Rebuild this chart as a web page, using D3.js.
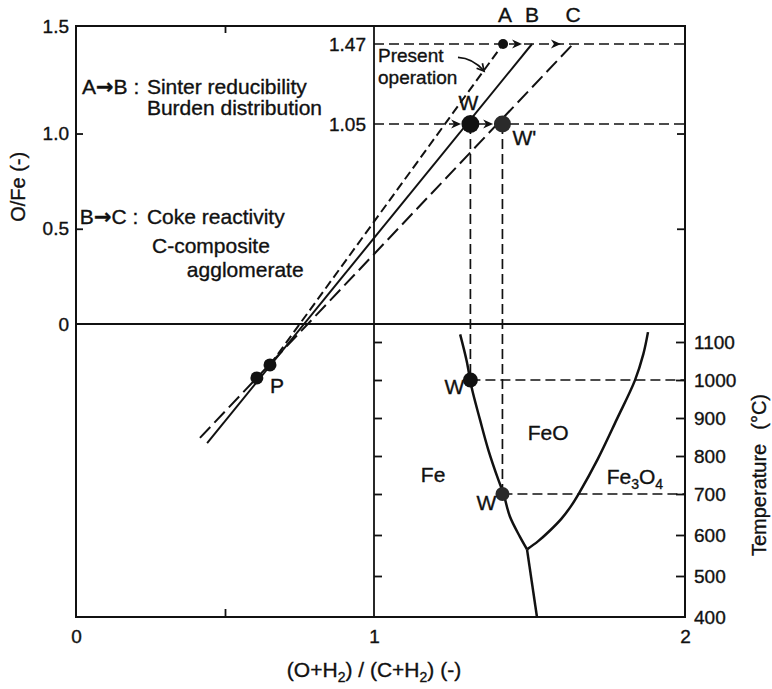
<!DOCTYPE html>
<html><head><meta charset="utf-8">
<script src="https://cdn.jsdelivr.net/npm/d3@7"></script>
<style>body{margin:0;background:#fff} text{stroke:#111;stroke-width:0.35px}</style>
</head><body><svg id="c" width="772" height="689"></svg>
<script>
// ---------------- data ----------------
const xTicks = [0, 1, 2];
const xMinorTicks = [0.5];
const oFeTicks = [0, 0.5, 1.0, 1.5];
const oFeInnerTicks = [0.5, 1.0];
const oFeMarks = [1.47, 1.05];
const tempTicks = [400, 500, 600, 700, 800, 900, 1000, 1100];
const opLineNames = ["A", "B", "C"];
const opLineLow = [[0.651, -0.215], [0.440, -0.625], [0.416, -0.598]];
const opLineTopX = [1.415, 1.508, 1.640];   // x where each line meets O/Fe = 1.47
const pPoints = [[0.651, -0.215], [0.607, -0.283]];
const wX = 1.31, wPrimeX = 1.413;
const wTemp = 1000, wPrimeTemp = 700;
const feFeoBoundary = [[1.277,1120],[1.298,1050],[1.314,980],[1.341,895],[1.368,815],[1.400,737],[1.416,702],[1.437,645],[1.469,596],[1.492,565]];
const feFe3o4Boundary = [[1.492,565],[1.524,400]];
const feoFe3o4Boundary = [[1.492,565],[1.528,585],[1.566,611],[1.603,640],[1.634,671],[1.660,703],[1.719,791],[1.781,897],[1.839,999],[1.866,1068],[1.881,1126]];
const shiftArrowsTop = [1.476, 1.601];
const shiftArrowsW = [1.280, 1.383];
const presentArrow = [[1.27, 1.40], [1.318, 1.396], [1.354, 1.328]];

// ---------------- scales ----------------
const x = d3.scaleLinear().domain([0, 1, 2]).range([76, 374, 685]);
const y = d3.scaleLinear().domain([0, 1.47, 1.5]).range([324, 44, 26]);
const t = d3.scaleLinear().domain([400, 700, 1100]).range([617, 494, 342]);

const F = '"Liberation Sans", Arial, Helvetica, sans-serif';
const ink = "#111";
const svg = d3.select("#c");
const g = svg.append("g");

function axisStyle(sel) {
  sel.attr("font-family", F).attr("font-size", 19);
  sel.select(".domain").remove();
  sel.selectAll("line").attr("stroke", ink).attr("stroke-width", 1.8);
  sel.selectAll("text").attr("fill", ink);
}

// frame & dividers
g.append("rect").attr("x", x(0)).attr("y", y(1.5))
  .attr("width", x(2) - x(0)).attr("height", t(400) - y(1.5))
  .attr("fill", "none").attr("stroke", ink).attr("stroke-width", 2);
g.append("line").attr("x1", x(1)).attr("x2", x(1)).attr("y1", y(1.5)).attr("y2", t(400))
  .attr("stroke", ink).attr("stroke-width", 1.8);
g.append("line").attr("x1", x(0)).attr("x2", x(2)).attr("y1", y(0)).attr("y2", y(0))
  .attr("stroke", ink).attr("stroke-width", 1.8);

// axes
g.append("g").attr("transform", `translate(${x(0)},0)`)
  .call(d3.axisRight(y).tickValues(oFeInnerTicks).tickSize(7).tickFormat("")).call(axisStyle);
g.append("g").attr("transform", `translate(${x(0) - 7},0)`)
  .call(d3.axisLeft(y).tickValues(oFeTicks).tickSize(0).tickPadding(0)
    .tickFormat(d => d === 0 ? "0" : d3.format(".1f")(d))).call(axisStyle);
g.append("g").attr("transform", `translate(${x(2)},0)`)
  .call(d3.axisLeft(y).tickValues(oFeInnerTicks).tickSize(8).tickFormat("")).call(axisStyle);
g.append("g").attr("transform", `translate(${x(1) - 8},0)`)
  .call(d3.axisLeft(y).tickValues(oFeMarks).tickSize(0).tickPadding(0).tickFormat(d3.format(".2f"))).call(axisStyle);
g.append("g").attr("transform", `translate(${x(1)},0)`)
  .call(d3.axisRight(t).tickValues(tempTicks.filter(d => d > 400)).tickSize(8).tickFormat("")).call(axisStyle);
g.append("g").attr("transform", `translate(${x(2)},0)`)
  .call(d3.axisLeft(t).tickValues(tempTicks.filter(d => d > 400)).tickSize(9).tickFormat("")).call(axisStyle);
g.append("g").attr("transform", `translate(${x(2) + 9},0)`)
  .call(d3.axisRight(t).tickValues(tempTicks).tickSize(0).tickPadding(0).tickFormat(d3.format("d"))).call(axisStyle);
g.append("g").attr("transform", `translate(0,${t(400) + 12})`)
  .call(d3.axisBottom(x).tickValues(xTicks).tickSize(0).tickPadding(0).tickFormat(d3.format("d"))).call(axisStyle);
g.append("g").attr("transform", `translate(0,${y(1.5)})`)
  .call(d3.axisBottom(x).tickValues(xMinorTicks).tickSize(7).tickFormat("")).call(axisStyle);
g.append("g").attr("transform", `translate(0,${t(400)})`)
  .call(d3.axisTop(x).tickValues(xMinorTicks).tickSize(8).tickFormat("")).call(axisStyle);

// guide dashed lines
const guide = [
  [[x(1), y(1.47)], [x(2), y(1.47)]],
  [[x(1), y(1.05)], [x(2), y(1.05)]],
  [[x(wX), y(1.05)], [x(wX), t(wTemp)]],
  [[x(wPrimeX), y(1.05)], [x(wPrimeX), t(wPrimeTemp)]],
  [[x(wX), t(wTemp)], [x(2), t(wTemp)]],
  [[x(wPrimeX), t(wPrimeTemp)], [x(2), t(wPrimeTemp)]]
];
g.selectAll(".guide").data(guide).join("path").attr("class", "guide")
  .attr("d", d => d3.line()(d)).attr("fill", "none").attr("stroke", ink)
  .attr("stroke-width", 1.7).attr("stroke-dasharray", "10,5");

// operating lines
const dashes = ["9,4.5", null, "15,6"];
opLineNames.forEach((n, i) => {
  g.append("path")
    .attr("d", d3.line()([[x(opLineLow[i][0]), y(opLineLow[i][1])], [x(opLineTopX[i]), y(1.47)]]))
    .attr("fill", "none").attr("stroke", ink).attr("stroke-width", 2)
    .attr("stroke-dasharray", dashes[i]);
  g.append("text").attr("x", x(opLineTopX[i]) + (i === 0 ? 2 : 0)).attr("y", 22)
    .attr("text-anchor", "middle").attr("font-family", F).attr("font-size", 21).attr("fill", ink).text(n);
});

// phase boundaries
const curve = d3.line().x(d => x(d[0])).y(d => t(d[1])).curve(d3.curveCatmullRom);
[feFeoBoundary, feFe3o4Boundary, feoFe3o4Boundary].forEach(b => {
  g.append("path").attr("d", curve(b)).attr("fill", "none").attr("stroke", ink).attr("stroke-width", 2.5);
});

// arrowheads
function arrowHead(px, py) {
  return `M${px},${py} L${px - 10},${py - 4.5} L${px - 7},${py} L${px - 10},${py + 4.5} Z`;
}
shiftArrowsTop.forEach(a => g.append("path").attr("d", arrowHead(x(a), y(1.47))).attr("fill", ink));
shiftArrowsW.forEach(a => g.append("path").attr("d", arrowHead(x(a), y(1.05))).attr("fill", ink));

// dots
const dots = [
  [x(opLineTopX[0]), y(1.47), 5, ink],
  [x(wX), y(1.05), 9, ink],
  [x(wPrimeX), y(1.05), 8.5, "#2a2a2a"],
  [x(wX), t(wTemp), 7.5, ink],
  [x(wPrimeX), t(wPrimeTemp), 7, "#2a2a2a"],
  [x(pPoints[0][0]), y(pPoints[0][1]), 6.5, ink],
  [x(pPoints[1][0]), y(pPoints[1][1]), 6.5, ink]
];
g.selectAll(".dot").data(dots).join("circle").attr("class", "dot")
  .attr("cx", d => d[0]).attr("cy", d => d[1]).attr("r", d => d[2]).attr("fill", d => d[3]);

// present operation arrow
const pa = presentArrow.map(p => [x(p[0]), y(p[1])]);
const pth = d3.path(); pth.moveTo(pa[0][0], pa[0][1]); pth.quadraticCurveTo(pa[1][0], pa[1][1], pa[2][0], pa[2][1]);
g.append("path").attr("d", pth.toString()).attr("fill", "none").attr("stroke", ink).attr("stroke-width", 1.7);
{
  const [ex, ey] = pa[2], [cx, cy] = pa[1];
  const ang = Math.atan2(ey - cy, ex - cx), L = 8;
  const p1 = [ex - L * Math.cos(ang - 0.5), ey - L * Math.sin(ang - 0.5)];
  const p2 = [ex - L * Math.cos(ang + 0.5), ey - L * Math.sin(ang + 0.5)];
  g.append("path").attr("d", d3.line()([p1, [ex, ey], p2])).attr("fill", "none").attr("stroke", ink).attr("stroke-width", 1.7);
}

// texts
function txt(px, py, s, opts = {}) {
  const e = g.append("text").attr("x", px).attr("y", py).attr("font-family", F)
    .attr("font-size", opts.size || 21).attr("fill", ink).attr("text-anchor", opts.anchor || "start");
  if (opts.rotate) e.attr("transform", `rotate(-90,${px},${py})`);
  if (typeof s === "string") e.text(s);
  else s.forEach(p => {
    const ts = e.append("tspan").text(p.t);
    if (p.sub) ts.attr("font-size", 14).attr("dy", 5);
    if (p.after) ts.attr("dy", -5);
    if (p.dx) ts.attr("dx", p.dx);
    if (p.font) ts.attr("font-family", p.font).attr("font-weight", "bold");
  });
  return e;
}
const AR = '"DejaVu Sans", sans-serif';
txt(x(0.020), y(1.207), [{ t: "A" }, { t: "→", font: AR }, { t: "B :" }]);
txt(x(0.238), y(1.207), "Sinter reducibility");
txt(x(0.238), y(1.097), "Burden distribution");
txt(x(0.013), y(0.525), [{ t: "B" }, { t: "→", font: AR }, { t: "C :" }]);
txt(x(0.238), y(0.525), "Coke reactivity");
txt(x(0.255), y(0.373), "C-composite");
txt(x(0.372), y(0.247), "agglomerate");
txt(x(1.013), y(1.375), "Present", { size: 19 });
txt(x(1.013), y(1.26), "operation", { size: 19 });
txt(x(wX) - 2, y(1.05) - 14, "W", { anchor: "middle" });
txt(x(wPrimeX) + 10, y(1.05) + 21, "W'");
txt(x(wX) - 6, t(wTemp) + 14, "W", { anchor: "end" });
txt(x(wPrimeX) - 6, t(wPrimeTemp) + 16, "W", { anchor: "end" });
txt(x(pPoints[1][0]) + 13, y(pPoints[1][1]) + 15, "P");
txt(x(1.19), t(750) + 7, "Fe", { anchor: "middle" });
txt(x(1.56), t(860) + 7, "FeO", { anchor: "middle" });
txt(x(1.839), t(745) + 7, [{ t: "Fe" }, { t: "3", sub: 1 }, { t: "O", after: 1 }, { t: "4", sub: 1 }], { anchor: "middle" });
txt(x(1), 677, [{ t: "(O+H" }, { t: "2", sub: 1 }, { t: ") / (C+H", after: 1 }, { t: "2", sub: 1 }, { t: ") (-)", after: 1 }], { anchor: "middle" });
txt(25, y(0.72), "O/Fe (-)", { anchor: "middle", rotate: 1, size: 20 });
txt(766, t(750), [{ t: "Temperature" }, { t: "(°C)", dx: 14 }], { anchor: "middle", rotate: 1, size: 20 });
</script>
</body></html>
